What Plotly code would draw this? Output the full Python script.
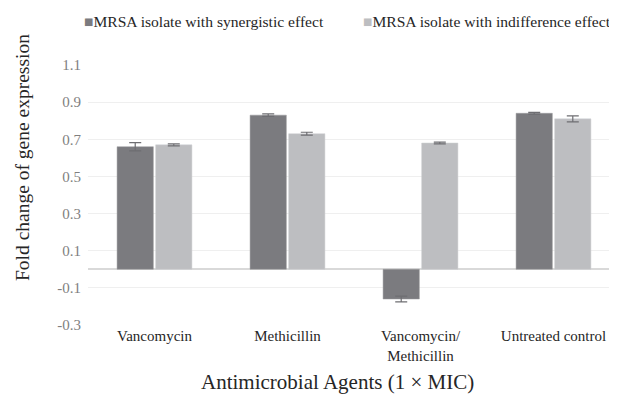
import plotly.graph_objects as go

categories = ["Vancomycin", "Methicillin", "Vancomycin/<br>Methicillin", "Untreated control"]
synergistic = [0.66, 0.83, -0.16, 0.84]
synergistic_err = [0.022, 0.007, 0.015, 0.005]
indifference = [0.67, 0.73, 0.68, 0.81]
indifference_err = [0.005, 0.008, 0.005, 0.016]
y_ticks = [-0.3, -0.1, 0.1, 0.3, 0.5, 0.7, 0.9, 1.1]
series_names = ["MRSA isolate with synergistic effect", "MRSA isolate with indifference effect"]
colors = ["#7b7b7f", "#bdbec1"]

FF = "Liberation Serif, Times New Roman, serif"

# page renders the figure with an 8px body offset; plot area placed to match reference
L, R, T, B = 80, 5, 57, 86
PW = 617 - L - R
PH = 403 - T - B

def px(xp):
    return (xp - 8 - L) / PW

def py(yp):
    return (403 - B - (yp - 8)) / PH

fig = go.Figure()
fig.add_trace(go.Bar(
    x=categories, y=synergistic, name=series_names[0],
    marker=dict(color=colors[0], line=dict(color="#9a9a9d", width=0.5)),
    error_y=dict(type="data", array=synergistic_err, color="#6e6e72", thickness=1.2, width=6),
))
fig.add_trace(go.Bar(
    x=categories, y=indifference, name=series_names[1],
    marker=dict(color=colors[1], line=dict(color="#cfd0d2", width=0.5)),
    error_y=dict(type="data", array=indifference_err, color="#6e6e72", thickness=1.2, width=6),
))

fig.update_layout(
    width=617, height=403,
    margin=dict(l=L, r=R, t=T, b=B, autoexpand=False),
    paper_bgcolor="white", plot_bgcolor="white",
    font=dict(family=FF, color="#404040", size=15),
    barmode="group", bargap=0.42, bargroupgap=0.06,
    showlegend=False,
    xaxis=dict(
        showgrid=False, showline=False, ticks="", automargin=False,
        tickfont=dict(family=FF, size=15, color="#262626"),
    ),
    yaxis=dict(
        range=[-0.3, 1.1], tickvals=y_ticks, ticktext=[f"{v:.1f}" for v in y_ticks],
        showgrid=True, gridcolor="#efefef", gridwidth=1,
        zeroline=True, zerolinecolor="#d9d9d9", zerolinewidth=1.5,
        showline=False, ticks="", automargin=False, ticklabelstandoff=6,
        tickfont=dict(family=FF, size=15, color="#7f7f7f"),
    ),
)

# axis titles
fig.add_annotation(text="Antimicrobial Agents (1 × MIC)", xref="paper", yref="paper",
                   x=px(337), y=py(382), xanchor="center", yanchor="middle", showarrow=False,
                   font=dict(family=FF, size=21, color="#262626"))
fig.add_annotation(text="Fold change of gene expression", xref="paper", yref="paper",
                   x=px(22), y=py(158), xanchor="center", yanchor="middle", textangle=-90, showarrow=False,
                   font=dict(family=FF, size=19.5, color="#262626"))

# legend drawn as text
for name, col, lx in zip(series_names, colors, [82, 361]):
    fig.add_annotation(text=f"<span style='color:{col}'>■</span>{name}",
                       xref="paper", yref="paper", x=px(lx), y=py(22),
                       xanchor="left", yanchor="middle", showarrow=False,
                       font=dict(family=FF, size=15.6, color="#262626"))

fig.write_html("out.html")
